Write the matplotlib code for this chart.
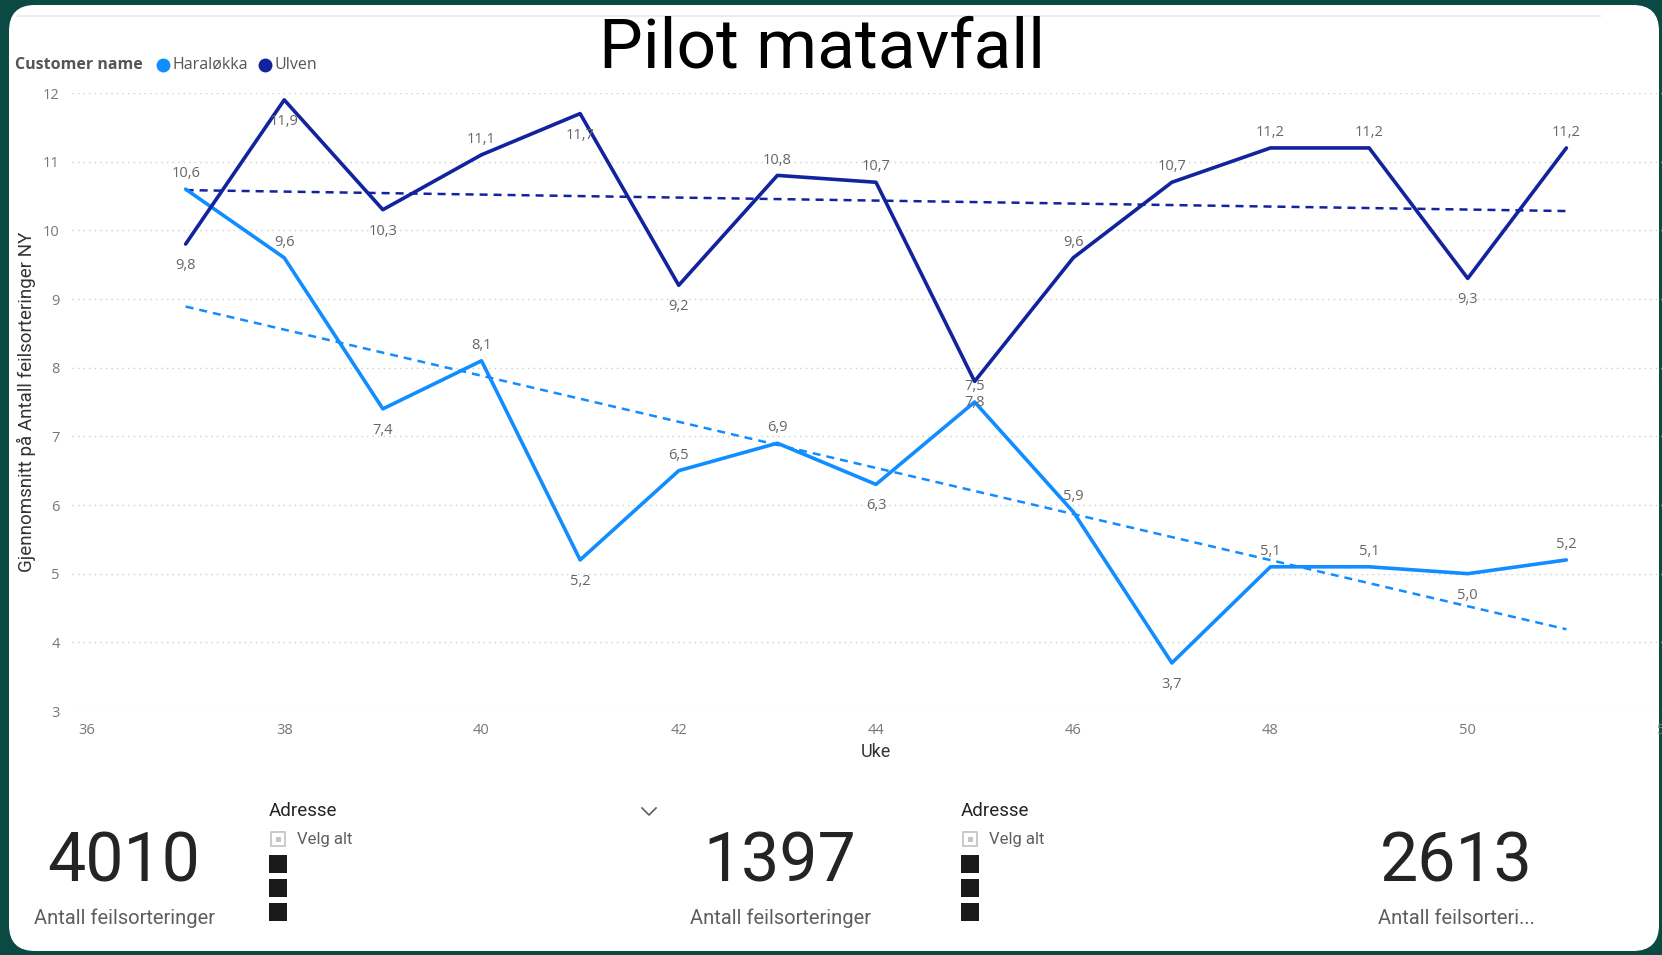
import numpy as np
import matplotlib
matplotlib.use("Agg")
import matplotlib.pyplot as plt
from matplotlib import font_manager as fm
from matplotlib.patches import FancyBboxPatch, Rectangle

# ---------------- data ----------------
weeks = [37, 38, 39, 40, 41, 42, 43, 44, 45, 46, 47, 48, 49, 50, 51]
haralokka = [10.6, 9.6, 7.4, 8.1, 5.2, 6.5, 6.9, 6.3, 7.5, 5.9, 3.7, 5.1, 5.1, 5.0, 5.2]
ulven = [9.8, 11.9, 10.3, 11.1, 11.7, 9.2, 10.8, 10.7, 7.8, 9.6, 10.7, 11.2, 11.2, 9.3, 11.2]
har_label_pos = ["a", "a", "b", "a", "b", "a", "a", "b", "a", "a", "b", "a", "a", "b", "a"]
ulv_label_pos = ["b", "b", "b", "a", "b", "b", "a", "a", "b", "a", "a", "a", "a", "b", "a"]
series_names = ["Haraløkka", "Ulven"]
x_ticks = [36, 38, 40, 42, 44, 46, 48, 50, 52]
y_ticks = [3, 4, 5, 6, 7, 8, 9, 10, 11, 12]
kpi_values = ["4010", "1397", "2613"]
kpi_labels = ["Antall feilsorteringer", "Antall feilsorteringer", "Antall feilsorteri..."]

C_HAR = "#118DFF"
C_ULV = "#12239E"
W, H = 1662, 955


def pick(*names):
    for n in names:
        try:
            fm.findfont(fm.FontProperties(family=n), fallback_to_default=False)
            return n
        except Exception:
            pass
    return "DejaVu Sans"


F_UI = pick("Open Sans", "Noto Sans", "DejaVu Sans")
F_DIN = pick("Roboto", "Lato", "DejaVu Sans")
F_TITLE = pick("Roboto", "Lato", "DejaVu Sans")

fig = plt.figure(figsize=(W / 100, H / 100), dpi=100)
fig.patch.set_facecolor("#0b4a42")

# background / overlay axes in pixel coordinates
bg = fig.add_axes([0, 0, 1, 1], zorder=0)
bg.set_xlim(0, W)
bg.set_ylim(H, 0)
bg.axis("off")
bg.add_patch(FancyBboxPatch((9, 5), 1650, 946, boxstyle="round,pad=0,rounding_size=26",
                            facecolor="white", edgecolor="none"))
bg.plot([18, 1600], [16, 16], color="#ececec", lw=1.5)

# title
bg.text(822, 48, "Pilot matavfall", fontsize=50, family=F_TITLE, color="#000000",
        ha="center", va="center")

# legend
t = bg.text(15, 65, "Customer name", fontsize=11.5, family=F_UI, fontweight="bold",
            color="#555555", ha="left", va="center")
bg.plot([163], [65], "o", ms=10, color=C_HAR, mec="none")
bg.text(172, 65, series_names[0], fontsize=11.5, family=F_UI, color="#555555",
        ha="left", va="center")
bg.plot([265], [65], "o", ms=10, color=C_ULV, mec="none")
bg.text(274, 65, series_names[1], fontsize=11.5, family=F_UI, color="#555555",
        ha="left", va="center")

# axis titles
bg.text(26, 402, "Gjennomsnitt på Antall feilsorteringer NY", fontsize=13.5, family=F_DIN,
        color="#333333", rotation=90, ha="center", va="center")
bg.text(876, 752, "Uke", fontsize=13, family=F_DIN, color="#333333", ha="center", va="center")

# KPI cards
kpi_x = [124, 780, 1456]
for xc, val, lab in zip(kpi_x, kpi_values, kpi_labels):
    bg.text(xc, 862, val, fontsize=49, family=F_DIN, color="#252423", ha="center", va="center")
    bg.text(xc, 918, lab, fontsize=14.5, family=F_DIN, color="#605E5C", ha="center", va="center")

# slicers
for sx in [269, 961]:
    bg.text(sx, 811, "Adresse", fontsize=13.5, family=F_DIN, color="#252423",
            ha="left", va="center")
    bx = sx + 9
    bg.add_patch(Rectangle((bx - 7, 839 - 7), 14, 14, facecolor="white",
                           edgecolor="#c8c6c4", lw=1.3))
    bg.add_patch(Rectangle((bx - 2.5, 839 - 2.5), 5, 5, facecolor="#c8c6c4", edgecolor="none"))
    bg.text(bx + 19, 839, "Velg alt", fontsize=12, family=F_DIN, color="#605E5C",
            ha="left", va="center")
    for yc in [864, 888, 912]:
        bg.add_patch(Rectangle((bx - 9, yc - 9), 18, 18, facecolor="#1a1a1a", edgecolor="none"))
bg.plot([642, 649, 656], [808, 815, 808], color="#605E5C", lw=1.2)

# ---------------- chart ----------------
px_per_week = 98.65
ax = fig.add_axes([72 / W, 1 - 711 / H, (1665 - 72) / W, (711 - 93) / H], zorder=1)
ax.patch.set_alpha(0)
ax.set_xlim(36 - 15 / px_per_week, 52)
ax.set_ylim(3, 12)
for s in ax.spines.values():
    s.set_visible(False)
ax.set_xticks(x_ticks)
ax.set_yticks(y_ticks)
ax.tick_params(length=0, labelsize=10.5, labelcolor="#777777")
ax.tick_params(axis="y", pad=9)
ax.tick_params(axis="x", pad=9)
for lab in ax.get_xticklabels() + ax.get_yticklabels():
    lab.set_family(F_UI)
ax.grid(axis="y", color="#cccccc", linestyle=(0, (1, 3)), lw=1)
ax.grid(axis="x", visible=False)

w = np.array(weeks, dtype=float)
for vals, col, pos in [(haralokka, C_HAR, har_label_pos), (ulven, C_ULV, ulv_label_pos)]:
    v = np.array(vals)
    ax.plot(w, v, color=col, lw=2.6, solid_joinstyle="round", solid_capstyle="round", zorder=3)
    k, b = np.polyfit(w, v, 1)
    ax.plot([w[0], w[-1]], [k * w[0] + b, k * w[-1] + b], color=col, lw=1.8,
            linestyle=(0, (3.2, 2.4)), zorder=2)
    for xi, yi, p in zip(w, v, pos):
        off = 11 if p == "a" else -15.5
        ax.annotate(f"{yi:.1f}".replace(".", ","), (xi, yi), xytext=(0, off),
                    textcoords="offset points", ha="center", va="center",
                    fontsize=10.5, family=F_UI, color="#666666", annotation_clip=False, zorder=4)

fig.savefig("out.png", dpi=100, facecolor=fig.get_facecolor())
